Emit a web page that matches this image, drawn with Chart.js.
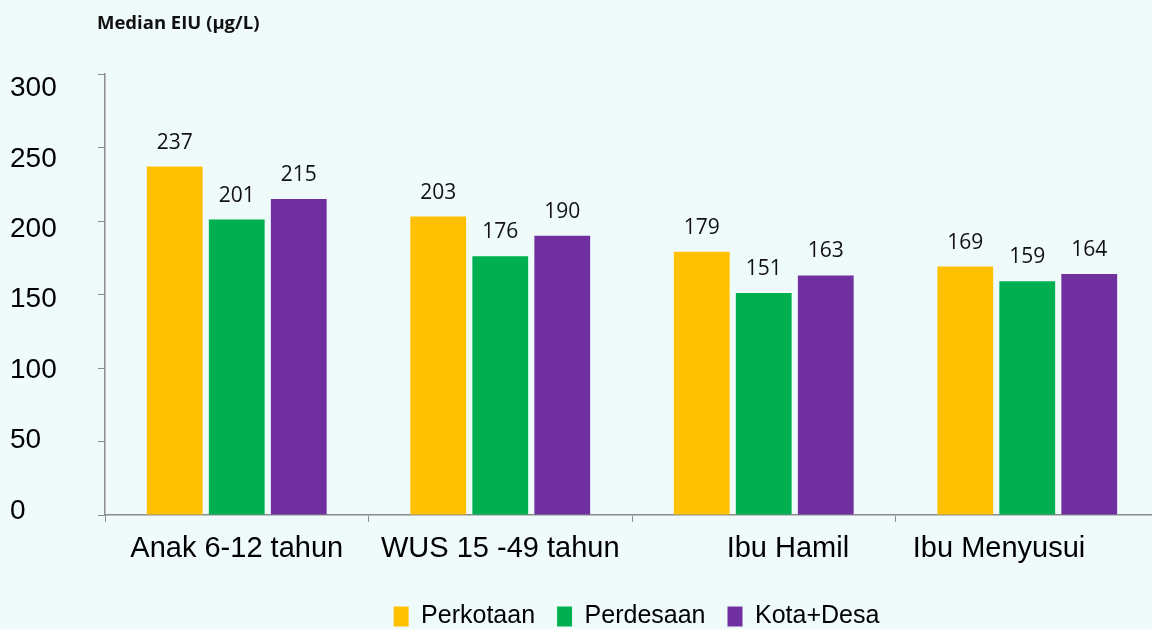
<!DOCTYPE html>
<html>
<head>
<meta charset="utf-8">
<script src="https://cdn.jsdelivr.net/npm/chart.js@4.4.1/dist/chart.umd.min.js"></script>
<style>
  html, body { margin: 0; padding: 0; background: #effbfb; overflow: hidden; }
  #wrap { width: 1170px; height: 639px; }
</style>
</head>
<body>
<div id="wrap"><canvas id="chart" width="1170" height="639"></canvas></div>
<script>
const categories = ['Anak 6-12 tahun', 'WUS 15 -49 tahun', 'Ibu Hamil', 'Ibu Menyusui'];
const perkotaan  = [237, 203, 179, 169];
const perdesaan  = [201, 176, 151, 159];
const kotaDesa   = [215, 190, 163, 164];
const yTicks     = [0, 50, 100, 150, 200, 250, 300];
const titleText  = 'Median EIU (\u03bcg/L)';

// the original labels sit a bit off-centre under two groups
const labelPad = { 'Ibu Hamil': '      Ibu Hamil', 'Ibu Menyusui': 'Ibu Menyusui       ' };

const valueLabels = {
  id: 'valueLabels',
  afterDatasetsDraw(chart) {
    const ctx = chart.ctx;
    ctx.save();
    ctx.font = '21px "Open Sans", sans-serif';
    ctx.fillStyle = '#111';
    ctx.textAlign = 'center';
    ctx.textBaseline = 'alphabetic';
    chart.data.datasets.forEach((ds, i) => {
      chart.getDatasetMeta(i).data.forEach((bar, j) => {
        ctx.fillText(String(ds.data[j]), bar.x, bar.y - 18);
      });
    });
    ctx.restore();
  }
};

const topTitle = {
  id: 'topTitle',
  afterDraw(chart) {
    const ctx = chart.ctx;
    ctx.save();
    ctx.font = 'bold 18.5px "Open Sans", sans-serif';
    ctx.fillStyle = '#111';
    ctx.textAlign = 'left';
    ctx.textBaseline = 'alphabetic';
    ctx.fillText(titleText, 97, 29);
    ctx.restore();
  }
};

// legend in the original sits right of centre
const legendShift = {
  id: 'legendShift',
  afterLayout(chart) {
    chart.legend.left += 52;
    chart.legend.right += 52;
  }
};

new Chart(document.getElementById('chart').getContext('2d'), {
  type: 'bar',
  data: {
    labels: categories,
    datasets: [
      { label: 'Perkotaan', data: perkotaan, backgroundColor: '#ffc000' },
      { label: 'Perdesaan', data: perdesaan, backgroundColor: '#00b050' },
      { label: 'Kota+Desa', data: kotaDesa,  backgroundColor: '#7030a0' }
    ]
  },
  options: {
    responsive: false,
    animation: false,
    categoryPercentage: 0.706,
    barPercentage: 0.9,
    layout: { padding: { left: 10, right: 11, top: 74, bottom: 0 } },
    plugins: {
      tooltip: { enabled: false },
      legend: {
        position: 'bottom',
        labels: {
          boxWidth: 15,
          boxHeight: 20,
          padding: 22,
          color: '#000',
          font: { family: '"Liberation Sans", Arial, sans-serif', size: 25 }
        }
      }
    },
    scales: {
      x: {
        afterFit: s => { s.height = 67; },
        border: { display: true, color: '#8c8c8c', width: 1.5 },
        grid: { display: true, offset: true, drawOnChartArea: false, drawTicks: true, tickLength: 7, color: '#8c8c8c' },
        ticks: {
          color: '#000',
          padding: 10,
          maxRotation: 0,
          autoSkip: false,
          font: { family: '"Liberation Sans", Arial, sans-serif', size: 29 },
          callback: function(v) { const l = this.getLabelForValue(v); return labelPad[l] || l; }
        }
      },
      // value axis: line and tick marks only
      y: {
        min: 0,
        max: 300,
        afterFit: s => { s.width = 7; },
        afterBuildTicks: s => { s.ticks = yTicks.map(v => ({ value: v })); },
        border: { display: true, color: '#8c8c8c', width: 1.5 },
        grid: { display: true, drawOnChartArea: false, drawTicks: true, tickLength: 7, color: '#8c8c8c' },
        ticks: { display: false }
      },
      // tick labels, which in the original are spaced a little tighter than the ticks
      yLabels: {
        position: 'left',
        min: -2.84,
        max: 310.3,
        afterFit: s => { s.width = 88; },
        afterBuildTicks: s => { s.ticks = yTicks.map(v => ({ value: v })); },
        border: { display: false },
        grid: { display: false },
        ticks: {
          color: '#000',
          crossAlign: 'far',
          font: { family: '"Liberation Sans", Arial, sans-serif', size: 28 }
        }
      }
    }
  },
  plugins: [valueLabels, topTitle, legendShift]
});
</script>
</body>
</html>
